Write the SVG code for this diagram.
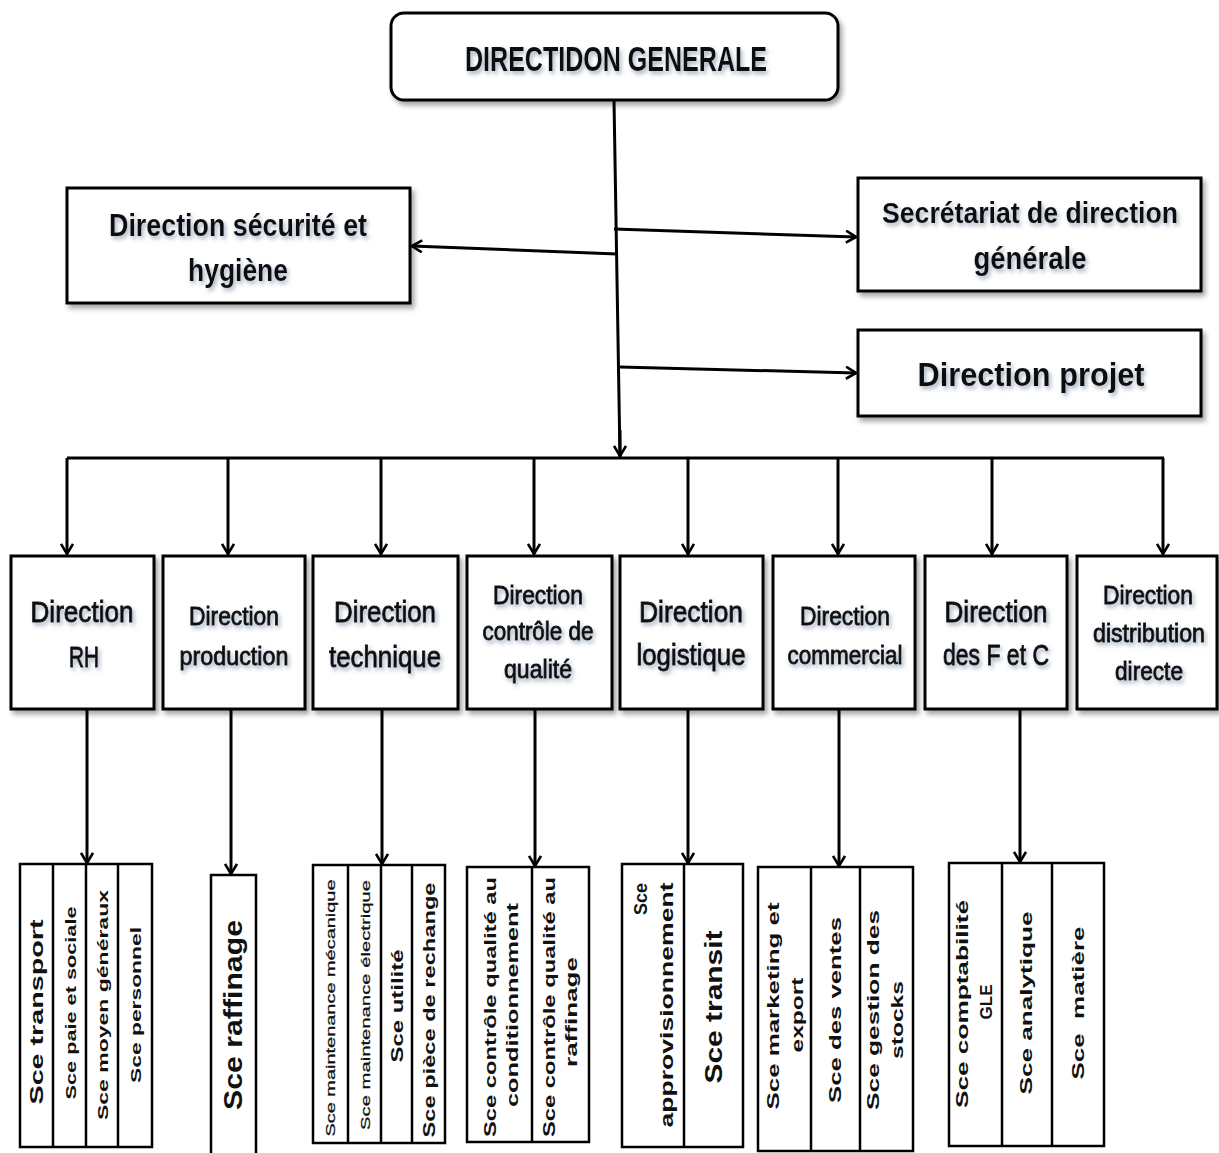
<svg xmlns="http://www.w3.org/2000/svg" width="1219" height="1153" viewBox="0 0 1219 1153">
<defs>
<filter id="bs" x="-10%" y="-10%" width="125%" height="125%">
<feDropShadow dx="3" dy="4" stdDeviation="2.5" flood-color="#000" flood-opacity="0.35"/>
</filter>
<filter id="ts" x="-20%" y="-60%" width="140%" height="220%">
<feDropShadow dx="2" dy="3" stdDeviation="2" flood-color="#7f8fa6" flood-opacity="0.7"/>
</filter>
<marker id="arr" viewBox="0 0 12 14" refX="11" refY="7" markerWidth="12" markerHeight="14" markerUnits="userSpaceOnUse" orient="auto">
<path d="M1,1 L11,7 L1,13" fill="none" stroke="#000" stroke-width="2.6"/>
</marker>
<style>
.box{fill:#fff;stroke:#000;stroke-width:3;filter:url(#bs)}
.sv{fill:#fff;stroke:#000;stroke-width:2.5}
.dv{stroke:#000;stroke-width:2.5}
.c{fill:none;stroke:#000;stroke-width:3;marker-end:url(#arr)}
.l{fill:none;stroke:#000;stroke-width:3}
.h{font-family:"Liberation Sans",Arial,sans-serif;font-weight:bold;fill:#111;text-anchor:middle;filter:url(#ts)}
.d{font-family:"Liberation Sans",Arial,sans-serif;font-weight:normal;fill:#111;stroke:#111;stroke-width:0.9;text-anchor:middle;filter:url(#ts)}
.s{font-family:"Liberation Sans",Arial,sans-serif;font-weight:bold;fill:#111;text-anchor:middle;white-space:pre}
.sn{font-family:"Liberation Sans",Arial,sans-serif;font-weight:normal;fill:#111;stroke:#111;stroke-width:0.25;text-anchor:middle}
</style>
</defs>

<g id="connectors">
<path class="l" d="M614,100 L620,458"/>
<path class="c" d="M617,254 L412,246"/>
<path class="c" d="M614,229 L856,237"/>
<path class="c" d="M620,367 L856,373"/>
<path class="c" d="M620,430 L620,456"/>
<path class="l" d="M67,458 L1164,458"/>
<path class="c" d="M67,458 L67,554"/>
<path class="c" d="M228,458 L228,554"/>
<path class="c" d="M381,458 L381,554"/>
<path class="c" d="M534,458 L534,554"/>
<path class="c" d="M688,458 L688,554"/>
<path class="c" d="M838,458 L838,554"/>
<path class="c" d="M992,458 L992,554"/>
<path class="c" d="M1163,458 L1163,554"/>
<path class="c" d="M87,710 L87,863"/>
<path class="c" d="M231,710 L231,874"/>
<path class="c" d="M382,710 L382,864"/>
<path class="c" d="M535,710 L535,866"/>
<path class="c" d="M688,710 L688,863"/>
<path class="c" d="M839,710 L839,866"/>
<path class="c" d="M1020,710 L1020,862"/>
</g>

<g id="n-dg">
<rect class="box" x="391" y="13" width="447" height="87" rx="13"/>
<text class="h" x="616" y="71" font-size="35" textLength="302" lengthAdjust="spacingAndGlyphs">DIRECTIDON GENERALE</text>
</g>

<g id="n-securite">
<rect class="box" x="67" y="188" width="343" height="115"/>
<text class="h" x="238" y="236" font-size="31" textLength="258" lengthAdjust="spacingAndGlyphs">Direction sécurité et</text>
<text class="h" x="238" y="281" font-size="31" textLength="100" lengthAdjust="spacingAndGlyphs">hygiène</text>
</g>

<g id="n-secretariat">
<rect class="box" x="858" y="178" width="343" height="113"/>
<text class="h" x="1030" y="223" font-size="29" textLength="296" lengthAdjust="spacingAndGlyphs">Secrétariat de direction</text>
<text class="h" x="1030" y="269" font-size="31" textLength="113" lengthAdjust="spacingAndGlyphs">générale</text>
</g>

<g id="n-projet">
<rect class="box" x="858" y="330" width="343" height="86"/>
<text class="h" x="1031" y="386" font-size="34" textLength="227" lengthAdjust="spacingAndGlyphs">Direction projet</text>
</g>

<g id="n-rh">
<rect class="box" x="11" y="556" width="143" height="153"/>
<text class="d" x="82" y="622" font-size="29" textLength="103" lengthAdjust="spacingAndGlyphs">Direction</text>
<text class="d" x="84" y="667" font-size="29" textLength="30" lengthAdjust="spacingAndGlyphs">RH</text>
</g>
<g id="n-production">
<rect class="box" x="163" y="556" width="142" height="153"/>
<text class="d" x="234" y="625" font-size="25" textLength="90" lengthAdjust="spacingAndGlyphs">Direction</text>
<text class="d" x="234" y="665" font-size="25" textLength="109" lengthAdjust="spacingAndGlyphs">production</text>
</g>
<g id="n-technique">
<rect class="box" x="313" y="556" width="145" height="153"/>
<text class="d" x="385" y="622" font-size="29" textLength="102" lengthAdjust="spacingAndGlyphs">Direction</text>
<text class="d" x="385" y="667" font-size="29" textLength="112" lengthAdjust="spacingAndGlyphs">technique</text>
</g>
<g id="n-controle">
<rect class="box" x="467" y="556" width="145" height="153"/>
<text class="d" x="538" y="604" font-size="25" textLength="90" lengthAdjust="spacingAndGlyphs">Direction</text>
<text class="d" x="538" y="640" font-size="25" textLength="111" lengthAdjust="spacingAndGlyphs">contrôle de</text>
<text class="d" x="538" y="678" font-size="25" textLength="68" lengthAdjust="spacingAndGlyphs">qualité</text>
</g>
<g id="n-logistique">
<rect class="box" x="620" y="556" width="143" height="153"/>
<text class="d" x="691" y="622" font-size="29" textLength="104" lengthAdjust="spacingAndGlyphs">Direction</text>
<text class="d" x="691" y="665" font-size="29" textLength="109" lengthAdjust="spacingAndGlyphs">logistique</text>
</g>
<g id="n-commercial">
<rect class="box" x="773" y="556" width="142" height="153"/>
<text class="d" x="845" y="625" font-size="25" textLength="90" lengthAdjust="spacingAndGlyphs">Direction</text>
<text class="d" x="845" y="664" font-size="25" textLength="115" lengthAdjust="spacingAndGlyphs">commercial</text>
</g>
<g id="n-fc">
<rect class="box" x="925" y="556" width="142" height="153"/>
<text class="d" x="996" y="622" font-size="29" textLength="103" lengthAdjust="spacingAndGlyphs">Direction</text>
<text class="d" x="996" y="665" font-size="29" textLength="106" lengthAdjust="spacingAndGlyphs">des F et C</text>
</g>
<g id="n-distribution">
<rect class="box" x="1077" y="556" width="140" height="153"/>
<text class="d" x="1148" y="604" font-size="25" textLength="90" lengthAdjust="spacingAndGlyphs">Direction</text>
<text class="d" x="1149" y="642" font-size="25" textLength="112" lengthAdjust="spacingAndGlyphs">distribution</text>
<text class="d" x="1149" y="680" font-size="25" textLength="68" lengthAdjust="spacingAndGlyphs">directe</text>
</g>

<g id="s-rh">
<rect class="sv" x="20" y="864" width="132" height="283"/>
<line class="dv" x1="53" y1="864" x2="53" y2="1147"/>
<line class="dv" x1="86" y1="864" x2="86" y2="1147"/>
<line class="dv" x1="118" y1="864" x2="118" y2="1147"/>
<text class="s" transform="translate(43,1012) rotate(-90)" font-size="19" textLength="185" lengthAdjust="spacingAndGlyphs">Sce transport</text>
<text class="s" transform="translate(75.5,1003) rotate(-90)" font-size="15.5" textLength="193" lengthAdjust="spacingAndGlyphs">Sce paie et sociale</text>
<text class="s" transform="translate(107.5,1005) rotate(-90)" font-size="15.5" textLength="230" lengthAdjust="spacingAndGlyphs">Sce moyen généraux</text>
<text class="s" transform="translate(140.5,1005) rotate(-90)" font-size="15.5" textLength="156" lengthAdjust="spacingAndGlyphs">Sce personnel</text>
</g>

<g id="s-production">
<path class="sv" d="M211,1155 L211,875 L256,875 L256,1155"/>
<text class="s" transform="translate(242,1015) rotate(-90)" font-size="25" textLength="190" lengthAdjust="spacingAndGlyphs">Sce raffinage</text>
</g>

<g id="s-technique">
<rect class="sv" x="313" y="865" width="132" height="278"/>
<line class="dv" x1="348" y1="865" x2="348" y2="1143"/>
<line class="dv" x1="381" y1="865" x2="381" y2="1143"/>
<line class="dv" x1="412" y1="865" x2="412" y2="1143"/>
<text class="sn" transform="translate(334.5,1008) rotate(-90)" font-size="12.5" textLength="257" lengthAdjust="spacingAndGlyphs">Sce maintenance mécanique</text>
<text class="sn" transform="translate(369.5,1005) rotate(-90)" font-size="12.5" textLength="250" lengthAdjust="spacingAndGlyphs">Sce maintenance électrique</text>
<text class="s" transform="translate(403,1006) rotate(-90)" font-size="17" textLength="113" lengthAdjust="spacingAndGlyphs">Sce utilité</text>
<text class="s" transform="translate(435,1010) rotate(-90)" font-size="17" textLength="255" lengthAdjust="spacingAndGlyphs">Sce pièce de rechange</text>
</g>

<g id="s-controle">
<rect class="sv" x="467" y="867" width="122" height="275"/>
<line class="dv" x1="532" y1="867" x2="532" y2="1142"/>
<text class="s" transform="translate(495.5,1007) rotate(-90)" font-size="16" textLength="260" lengthAdjust="spacingAndGlyphs">Sce contrôle qualité au</text>
<text class="s" transform="translate(517.5,1005) rotate(-90)" font-size="16" textLength="204" lengthAdjust="spacingAndGlyphs">conditionnement</text>
<text class="s" transform="translate(554.5,1007) rotate(-90)" font-size="16" textLength="260" lengthAdjust="spacingAndGlyphs">Sce contrôle qualité au</text>
<text class="s" transform="translate(576.5,1012) rotate(-90)" font-size="16" textLength="110" lengthAdjust="spacingAndGlyphs">raffinage</text>
</g>

<g id="s-logistique">
<rect class="sv" x="622" y="864" width="121" height="283"/>
<line class="dv" x1="684" y1="864" x2="684" y2="1147"/>
<text class="s" transform="translate(647,883) rotate(-90)" font-size="18" style="text-anchor:end">Sce</text>
<text class="s" transform="translate(673,1005) rotate(-90)" font-size="18" textLength="245" lengthAdjust="spacingAndGlyphs">approvisionnement</text>
<text class="s" transform="translate(721.5,1007) rotate(-90)" font-size="24" textLength="153" lengthAdjust="spacingAndGlyphs">Sce transit</text>
</g>

<g id="s-commercial">
<rect class="sv" x="758" y="867" width="155" height="284"/>
<line class="dv" x1="811" y1="867" x2="811" y2="1151"/>
<line class="dv" x1="860" y1="867" x2="860" y2="1151"/>
<text class="s" transform="translate(779,1006) rotate(-90)" font-size="17" textLength="207" lengthAdjust="spacingAndGlyphs">Sce marketing et</text>
<text class="s" transform="translate(803,1015) rotate(-90)" font-size="17" textLength="75" lengthAdjust="spacingAndGlyphs">export</text>
<text class="s" transform="translate(841,1010) rotate(-90)" font-size="17" textLength="186" lengthAdjust="spacingAndGlyphs">Sce des ventes</text>
<text class="s" transform="translate(879,1010) rotate(-90)" font-size="17" textLength="200" lengthAdjust="spacingAndGlyphs">Sce gestion des</text>
<text class="s" transform="translate(903,1020) rotate(-90)" font-size="17" textLength="78" lengthAdjust="spacingAndGlyphs">stocks</text>
</g>

<g id="s-fc">
<rect class="sv" x="949" y="863" width="155" height="283"/>
<line class="dv" x1="1002" y1="863" x2="1002" y2="1146"/>
<line class="dv" x1="1052" y1="863" x2="1052" y2="1146"/>
<text class="s" transform="translate(968,1004) rotate(-90)" font-size="17" textLength="208" lengthAdjust="spacingAndGlyphs">Sce comptabilité</text>
<text class="s" transform="translate(992,1002) rotate(-90)" font-size="17">GLE</text>
<text class="s" transform="translate(1032,1003) rotate(-90)" font-size="17" textLength="183" lengthAdjust="spacingAndGlyphs">Sce analytique</text>
<text class="s" transform="translate(1084,1003) rotate(-90)" font-size="17" textLength="153" lengthAdjust="spacingAndGlyphs">Sce  matière</text>
</g>
</svg>
